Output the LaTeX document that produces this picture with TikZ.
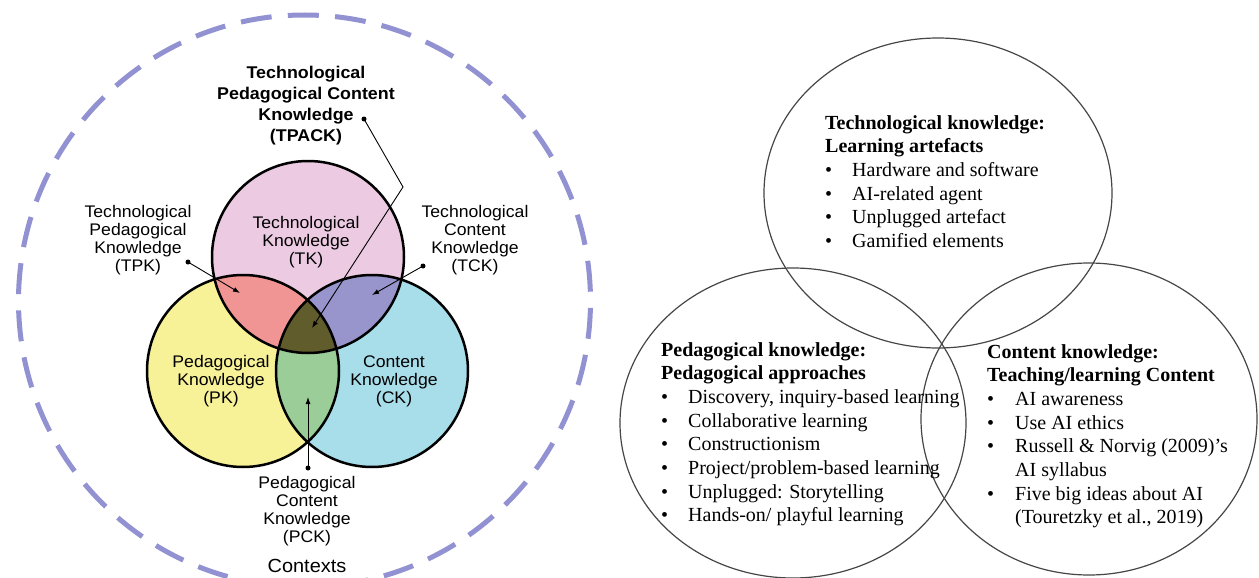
\documentclass[tikz,border=0pt]{standalone}
\usepackage{fontspec}
\setmainfont{Liberation Serif}
\newfontfamily\sansfont[FakeStretch=1.05]{Liberation Sans}
\usetikzlibrary{arrows.meta}

\definecolor{ctxblue}{RGB}{146,146,210}
\definecolor{tkpink}{RGB}{236,202,226}
\definecolor{pkyellow}{RGB}{247,241,152}
\definecolor{ckblue}{RGB}{168,221,234}
\definecolor{tpred}{RGB}{241,148,148}
\definecolor{tcpurple}{RGB}{152,148,204}
\definecolor{pcgreen}{RGB}{154,205,152}
\definecolor{coreolive}{RGB}{96,92,44}
\definecolor{ringgray}{RGB}{70,70,70}

\begin{document}
\begin{tikzpicture}[x=1pt,y=-1pt,
  venn/.style={draw=black,line width=2.5pt},
  sanslbl/.style={font=\sansfont\fontsize{16.8}{18}\selectfont,align=center,inner sep=0pt},
  sansbold/.style={font=\sansfont\bfseries\fontsize{17}{21}\selectfont,align=center,inner sep=0pt},
  pinhead/.style={circle,fill=black,inner sep=0pt,minimum size=5pt},
  pointer/.style={line width=0.9pt,-{Latex[length=7pt,width=5pt]}},
  ring/.style={draw=ringgray,line width=1.2pt},
  block/.style={font=\fontsize{20}{23.7}\selectfont,inner sep=0pt,anchor=base west}]

\useasboundingbox[fill=white] (0,0) rectangle (1259,578);

% ---------- TPACK model ----------
\coordinate (ctx) at (304.5,301);
\coordinate (tkc) at (308,257);
\coordinate (pkc) at (243,371);
\coordinate (ckc) at (372,371);

% contexts ring
\draw[ctxblue,line width=5pt,dash pattern=on 31pt off 16.3pt,dash phase=38pt]
  (ctx) circle[radius=286pt];

% circle fills
\fill[tkpink] (tkc) circle[radius=96pt];
\fill[pkyellow] (pkc) circle[radius=96pt];
\fill[ckblue] (ckc) circle[radius=96pt];
% pairwise overlaps
\begin{scope}
  \clip (tkc) circle[radius=96pt];
  \fill[tpred] (pkc) circle[radius=96pt];
  \fill[tcpurple] (ckc) circle[radius=96pt];
\end{scope}
\begin{scope}
  \clip (pkc) circle[radius=96pt];
  \fill[pcgreen] (ckc) circle[radius=96pt];
\end{scope}
% triple overlap
\begin{scope}
  \clip (tkc) circle[radius=96pt];
  \clip (pkc) circle[radius=96pt];
  \fill[coreolive] (ckc) circle[radius=96pt];
\end{scope}
% outlines
\draw[venn] (tkc) circle[radius=96pt];
\draw[venn] (pkc) circle[radius=96pt];
\draw[venn] (ckc) circle[radius=96pt];

% circle labels
\node[sanslbl] (tk) at (306,242) {Technological\\Knowledge\\(TK)};
\node[sanslbl] (pk) at (221,381) {Pedagogical\\Knowledge\\(PK)};
\node[sanslbl] (ck) at (394,381) {Content\\Knowledge\\(CK)};

% outer labels
\node[sansbold] (tpack) at (306,106) {Technological\\Pedagogical Content\\Knowledge\\(TPACK)};
\node[sanslbl] (tpk) at (138,240) {Technological\\Pedagogical\\Knowledge\\(TPK)};
\node[sanslbl] (tck) at (475,240) {Technological\\Content\\Knowledge\\(TCK)};
\node[sanslbl] (pck) at (307,511) {Pedagogical\\Content\\Knowledge\\(PCK)};
\node[font=\sansfont\fontsize{19}{22}\selectfont,inner sep=0pt] (contexts) at (307,566) {Contexts};

% pointers
\node[pinhead] (tpackdot) at (364,119) {};
\node[pinhead] (tpkdot) at (188,262) {};
\node[pinhead] (tckdot) at (423,266) {};
\node[pinhead] (pckdot) at (308,468) {};
\coordinate (tpackbend) at (403,187);
\coordinate (tpacktip) at (312,328);
\coordinate (tpktip) at (240,293);
\coordinate (tcktip) at (372,295);
\coordinate (pcktip) at (308,397);
\draw[pointer] (tpackdot.center) -- (tpackbend) -- (tpacktip);
\draw[pointer] (tpkdot.center) -- (tpktip);
\draw[pointer] (tckdot.center) -- (tcktip);
\draw[pointer] (pckdot.center) -- (pcktip);

% ---------- AI literacy framework ----------
\draw[ring] (938,193) ellipse[x radius=174pt,y radius=155pt];
\draw[ring] (793,423) ellipse[x radius=173pt,y radius=155pt];
\draw[ring] (1089,419) ellipse[x radius=168pt,y radius=156pt];

\node[block] (techblock) at (825,129) {%
\begin{tabular}[t]{@{}p{27pt}@{}l@{}}
\multicolumn{2}{@{}l@{}}{\bfseries Technological knowledge:}\\
\multicolumn{2}{@{}l@{}}{\bfseries Learning artefacts}\\
\textbullet & Hardware and software\\
\textbullet & AI-related agent\\
\textbullet & Unplugged artefact\\
\textbullet & Gamified elements
\end{tabular}};

\node[block] (pedblock) at (661,356) {%
\begin{tabular}[t]{@{}p{27pt}@{}l@{}}
\multicolumn{2}{@{}l@{}}{\bfseries Pedagogical knowledge:}\\
\multicolumn{2}{@{}l@{}}{\bfseries Pedagogical approaches}\\
\textbullet & Discovery, inquiry-based learning\\
\textbullet & Collaborative learning\\
\textbullet & Constructionism\\
\textbullet & Project/problem-based learning\\
\textbullet & Unplugged: Storytelling\\
\textbullet & Hands-on/ playful learning
\end{tabular}};

\node[block] (contblock) at (987,358) {%
\begin{tabular}[t]{@{}p{28pt}@{}l@{}}
\multicolumn{2}{@{}l@{}}{\bfseries Content knowledge:}\\
\multicolumn{2}{@{}l@{}}{\bfseries Teaching/learning Content}\\
\textbullet & AI awareness\\
\textbullet & Use AI ethics\\
\textbullet & Russell \& Norvig (2009)’s\\
 & AI syllabus\\
\textbullet & Five big ideas about AI\\
 & (Touretzky et al., 2019)
\end{tabular}};

\end{tikzpicture}
\end{document}
